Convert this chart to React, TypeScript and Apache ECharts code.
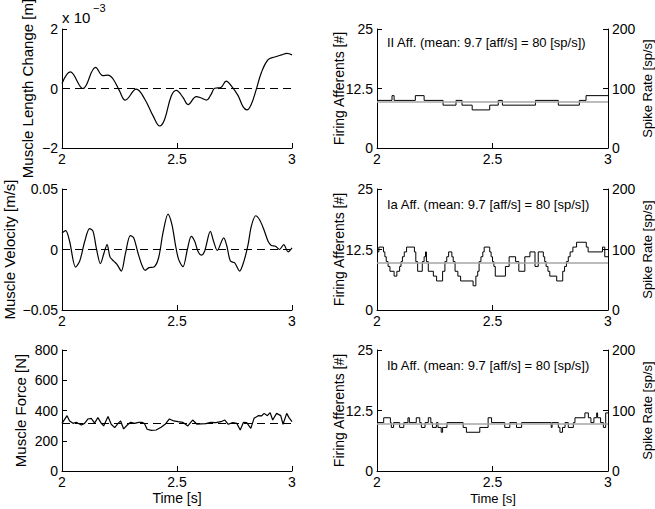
import React, { useEffect, useRef } from 'react';
import * as echarts from 'echarts';

const FONT = '"Liberation Sans", Arial, Helvetica, sans-serif';

// ---- Data ----
const lengthData: number[][] = [
  [2.0, 0.17], [2.036, 0.56], [2.091, 0.0], [2.146, 0.71], [2.178, 0.43], [2.2, 0.45],
  [2.222, 0.32], [2.25, -0.08], [2.275, -0.39], [2.323, -0.02], [2.36, -0.36], [2.396, -0.92],
  [2.425, -1.26], [2.446, -1.04], [2.475, -0.25], [2.497, -0.06], [2.526, -0.3], [2.548, -0.54],
  [2.584, -0.27], [2.606, -0.32], [2.628, -0.39], [2.649, -0.19], [2.664, 0.01], [2.69, 0.03],
  [2.714, 0.25], [2.736, 0.09], [2.765, -0.23], [2.787, -0.61], [2.804, -0.72], [2.823, -0.53],
  [2.845, -0.02], [2.867, 0.54], [2.896, 0.97], [2.925, 1.06], [2.954, 1.13], [2.978, 1.18],
  [3.0, 1.13],
];

const velocityData: number[][] = [
  [2.0, 0.0137], [2.016, 0.0156], [2.033, 0.0068], [2.059, -0.0145], [2.077, -0.0096],
  [2.099, 0.0068], [2.12, 0.0172], [2.135, 0.015], [2.149, 0.0014], [2.167, -0.0117],
  [2.183, -0.0027], [2.196, 0.0041], [2.209, -0.0063], [2.225, -0.0096], [2.239, -0.0123],
  [2.258, -0.0178], [2.275, -0.0041], [2.297, 0.0115], [2.312, 0.0096], [2.33, -0.0027],
  [2.349, -0.0137], [2.362, -0.0172], [2.378, -0.015], [2.4, -0.0145], [2.42, -0.0068],
  [2.439, 0.0137], [2.461, 0.0292], [2.478, 0.0205], [2.493, 0.0041], [2.507, -0.0082],
  [2.526, -0.0142], [2.545, 0.0], [2.562, 0.0109], [2.577, 0.0068], [2.591, -0.0014],
  [2.606, -0.0046], [2.62, -0.0014], [2.645, 0.015], [2.659, 0.0068], [2.675, -0.0008],
  [2.703, 0.0096], [2.717, 0.0027], [2.732, -0.0096], [2.751, -0.011], [2.772, -0.0178],
  [2.791, -0.0096], [2.809, 0.0041], [2.823, 0.0191], [2.842, 0.0279], [2.859, 0.0246],
  [2.878, 0.0164], [2.896, 0.0068], [2.91, 0.0033], [2.928, 0.0027], [2.946, 0.0],
  [2.964, 0.0041], [2.983, -0.0019], [3.0, 0.0014],
];

const forceData: number[][] = [
  [2.0, 315], [2.022, 366], [2.033, 331], [2.048, 315], [2.062, 322], [2.084, 304],
  [2.098, 315], [2.113, 344], [2.127, 348], [2.142, 317], [2.156, 353], [2.171, 315],
  [2.181, 298], [2.2, 361], [2.214, 309], [2.229, 287], [2.243, 313], [2.255, 331],
  [2.268, 278], [2.284, 304], [2.298, 322], [2.316, 315], [2.333, 322], [2.347, 322],
  [2.359, 313], [2.37, 276], [2.388, 269], [2.409, 271], [2.431, 289], [2.45, 311],
  [2.467, 344], [2.486, 331], [2.504, 326], [2.525, 322], [2.547, 298], [2.568, 337],
  [2.587, 309], [2.604, 311], [2.626, 313], [2.647, 322], [2.669, 320], [2.691, 326],
  [2.708, 337], [2.723, 309], [2.742, 320], [2.76, 315], [2.775, 271], [2.789, 322],
  [2.803, 320], [2.821, 282], [2.835, 348], [2.853, 366], [2.867, 364], [2.879, 381],
  [2.893, 366], [2.905, 386], [2.916, 337], [2.933, 381], [2.951, 366], [2.961, 309],
  [2.977, 381], [2.987, 353], [3.0, 326],
];
const FORCE_MEAN = 315;

const iiData: number[][] = [
  [2.0, 10], [2.065, 11], [2.074, 10], [2.166, 11], [2.204, 10], [2.286, 9], [2.342, 10],
  [2.368, 9], [2.412, 8], [2.488, 9], [2.525, 10], [2.543, 9], [2.686, 10], [2.785, 9],
  [2.876, 10], [2.905, 11], [3.0, 11],
];

const iaData: number[][] = [
  [2.0, 12], [2.008, 13], [2.028, 12], [2.034, 11], [2.04, 10], [2.048, 9], [2.056, 8],
  [2.074, 7], [2.086, 8], [2.098, 9], [2.104, 10], [2.11, 11], [2.118, 12], [2.128, 13],
  [2.162, 12], [2.168, 10], [2.176, 8], [2.196, 10], [2.204, 11], [2.21, 12], [2.214, 10],
  [2.222, 8], [2.244, 7], [2.258, 6], [2.284, 8], [2.294, 10], [2.302, 11], [2.31, 12],
  [2.324, 11], [2.33, 10], [2.338, 8], [2.35, 7], [2.362, 6], [2.416, 5], [2.428, 7],
  [2.436, 8], [2.442, 10], [2.45, 11], [2.458, 12], [2.464, 13], [2.488, 12], [2.494, 11],
  [2.5, 10], [2.506, 9], [2.512, 7], [2.556, 9], [2.572, 11], [2.6, 10], [2.614, 8],
  [2.64, 11], [2.662, 12], [2.684, 9], [2.698, 12], [2.72, 11], [2.726, 10], [2.732, 9],
  [2.74, 8], [2.748, 7], [2.778, 6], [2.804, 8], [2.812, 9], [2.82, 10], [2.828, 11],
  [2.836, 12], [2.848, 13], [2.864, 14], [2.906, 13], [2.914, 12], [2.976, 13], [2.986, 11],
  [3.0, 11],
];

const ibData: number[][] = [
  [2.0, 10], [2.029, 11], [2.058, 10], [2.062, 9], [2.072, 10], [2.098, 9], [2.116, 10],
  [2.134, 11], [2.14, 10], [2.17, 11], [2.185, 10], [2.192, 9], [2.208, 10], [2.222, 11],
  [2.233, 10], [2.24, 9], [2.257, 10], [2.264, 9], [2.278, 8], [2.284, 9], [2.303, 10],
  [2.373, 9], [2.387, 8], [2.445, 9], [2.481, 11], [2.496, 10], [2.553, 9], [2.575, 10],
  [2.604, 9], [2.626, 10], [2.754, 9], [2.758, 10], [2.785, 9], [2.792, 8], [2.803, 9],
  [2.814, 10], [2.828, 9], [2.85, 10], [2.857, 11], [2.9, 12], [2.915, 11], [2.926, 10],
  [2.939, 11], [2.951, 12], [2.955, 11], [2.968, 10], [2.98, 9], [2.99, 12], [3.0, 12],
];
const MEAN_AFF = 9.7;

const X_MIN = 2, X_MAX = 3, X_STEP = 0.5;
const leftLabels = ['Muscle Length Change [m]', 'Muscle Velocity [m/s]', 'Muscle Force [N]'];
const affLabels = [
  'II Aff. (mean: 9.7 [aff/s] = 80 [sp/s])',
  'Ia Aff. (mean: 9.7 [aff/s] = 80 [sp/s])',
  'Ib Aff. (mean: 9.7 [aff/s] = 80 [sp/s])',
];

const grids = [
  { left: 62, top: 29, width: 230, height: 119 },
  { left: 62, top: 189, width: 230, height: 121 },
  { left: 62, top: 350, width: 230, height: 121 },
  { left: 377, top: 29, width: 231, height: 119 },
  { left: 377, top: 189, width: 231, height: 121 },
  { left: 377, top: 350, width: 231, height: 121 },
];

const minusFmt = (v: number) => String(v).replace('-', '\u2212');

function axisBase(fontSize: number) {
  return {
    axisLine: { show: true, onZero: false, lineStyle: { color: '#000', width: 1 } },
    axisTick: { show: true, inside: true, length: 5, lineStyle: { color: '#000', width: 1 } },
    axisLabel: { color: '#000', fontSize, fontFamily: FONT, margin: 4, formatter: minusFmt },
    splitLine: { show: false },
  };
}

function dashed(y: number) {
  return {
    silent: true,
    symbol: ['none', 'none'],
    label: { show: false },
    lineStyle: { type: [8, 5], color: '#000', width: 1 },
    data: [{ yAxis: y }],
  };
}

function grayMean(y: number) {
  return {
    silent: true,
    symbol: ['none', 'none'],
    label: { show: false },
    lineStyle: { type: 'solid', color: '#a6a6a6', width: 1.5 },
    data: [{ yAxis: y }],
  };
}

export default function App() {
  const ref = useRef<HTMLDivElement>(null);
  useEffect(() => {
    const chart = echarts.init(ref.current!, null, { renderer: 'svg' });

    const xAxis = grids.map((_, i) => ({
      type: 'value', gridIndex: i, min: X_MIN, max: X_MAX, interval: X_STEP,
      ...axisBase(14),
      axisLabel: { color: '#000', fontSize: 14, fontFamily: FONT, margin: 4 },
    }));

    const yAxis: any[] = [
      { type: 'value', gridIndex: 0, min: -2, max: 2, interval: 2, position: 'left', ...axisBase(14) },
      { type: 'value', gridIndex: 1, min: -0.05, max: 0.05, interval: 0.05, position: 'left', ...axisBase(14) },
      { type: 'value', gridIndex: 2, min: 0, max: 800, interval: 200, position: 'left', ...axisBase(14) },
      { type: 'value', gridIndex: 3, min: 0, max: 25, interval: 12.5, position: 'left', ...axisBase(14) },
      { type: 'value', gridIndex: 4, min: 0, max: 25, interval: 12.5, position: 'left', ...axisBase(14) },
      { type: 'value', gridIndex: 5, min: 0, max: 25, interval: 12.5, position: 'left', ...axisBase(14) },
      { type: 'value', gridIndex: 3, min: 0, max: 200, interval: 100, position: 'right', ...axisBase(14) },
      { type: 'value', gridIndex: 4, min: 0, max: 200, interval: 100, position: 'right', ...axisBase(14) },
      { type: 'value', gridIndex: 5, min: 0, max: 200, interval: 100, position: 'right', ...axisBase(14) },
    ];

    const black = { color: '#000', width: 1.2 };
    const series: any[] = [
      { type: 'line', xAxisIndex: 0, yAxisIndex: 0, data: lengthData, smooth: 0.4, showSymbol: false, lineStyle: black, markLine: dashed(0) },
      { type: 'line', xAxisIndex: 1, yAxisIndex: 1, data: velocityData, smooth: 0.3, showSymbol: false, lineStyle: black, markLine: dashed(0) },
      { type: 'line', xAxisIndex: 2, yAxisIndex: 2, data: forceData, showSymbol: false, lineStyle: black, markLine: dashed(FORCE_MEAN) },
      { type: 'line', xAxisIndex: 3, yAxisIndex: 3, data: iiData, step: 'end', showSymbol: false, lineStyle: { color: '#000', width: 1 }, markLine: grayMean(MEAN_AFF) },
      { type: 'line', xAxisIndex: 4, yAxisIndex: 4, data: iaData, step: 'end', showSymbol: false, lineStyle: { color: '#000', width: 1 }, markLine: grayMean(MEAN_AFF) },
      { type: 'line', xAxisIndex: 5, yAxisIndex: 5, data: ibData, step: 'end', showSymbol: false, lineStyle: { color: '#000', width: 1 }, markLine: grayMean(MEAN_AFF) },
    ];

    const txt = (text: string, x: number, y: number, size: number, opts: any = {}) => ({
      type: 'text', x, y, rotation: opts.rotation || 0, silent: true,
      style: {
        text, fill: '#000', font: `${size}px ${FONT}`,
        align: opts.align || 'center', verticalAlign: opts.vAlign || 'middle',
        textAlign: opts.align || 'center', textVerticalAlign: opts.vAlign || 'middle',
      },
    });
    const R = Math.PI / 2;
    const graphic: any[] = [
      txt(leftLabels[0], 27, 88.5, 15, { rotation: R }),
      txt(leftLabels[1], 9, 249.5, 15, { rotation: R }),
      txt(leftLabels[2], 20, 410.5, 15, { rotation: R }),
      txt('Firing Afferents [#]', 339, 88.5, 14, { rotation: R }),
      txt('Firing Afferents [#]', 339, 249.5, 14, { rotation: R }),
      txt('Firing Afferents [#]', 339, 410.5, 14, { rotation: R }),
      txt('Spike Rate [sp/s]', 647, 88.5, 13, { rotation: R }),
      txt('Spike Rate [sp/s]', 647, 249.5, 13, { rotation: R }),
      txt('Spike Rate [sp/s]', 647, 410.5, 13, { rotation: R }),
      txt('Time [s]', 177, 498, 14),
      txt('Time [s]', 493, 498, 13),
      txt(affLabels[0], 387, 42, 13, { align: 'left' }),
      txt(affLabels[1], 387, 204, 13, { align: 'left' }),
      txt(affLabels[2], 387, 365, 13, { align: 'left' }),
      txt('x 10', 62, 17.5, 15, { align: 'left' }),
      txt('\u22123', 93, 8, 11, { align: 'left' }),
    ];

    chart.setOption({
      animation: false,
      backgroundColor: '#fff',
      grid: grids.map((g) => ({ ...g, containLabel: false })),
      xAxis,
      yAxis,
      series,
      graphic,
    });
    return () => chart.dispose();
  }, []);
  return (
    <div
      ref={ref}
      style={{ position: 'fixed', left: 0, top: 0, width: 655, height: 509, background: '#fff' }}
    />
  );
}
